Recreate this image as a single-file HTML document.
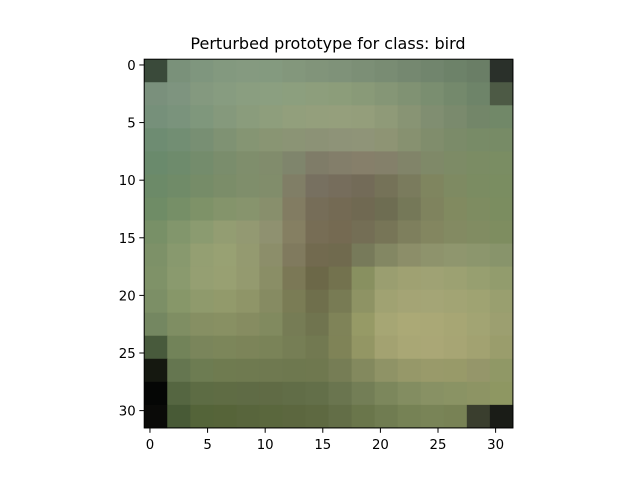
<!DOCTYPE html>
<html><head><meta charset="utf-8"><style>
body{margin:0;background:#fff;width:640px;height:480px;overflow:hidden}
text{font-family:"DejaVu Sans","Liberation Sans",sans-serif;fill:#000}
</style></head><body>
<svg id="chart" width="640" height="480" xmlns="http://www.w3.org/2000/svg">
<text x="328" y="49" font-size="16" text-anchor="middle">Perturbed prototype for class: bird</text>
<g id="cells"></g>
<rect x="144.2" y="59.2" width="368.7" height="368.7" fill="none" stroke="#000" stroke-width="1"/>
<g id="axes"></g>
</svg>
<script>
const rows = [
["#3a4a3a","#7a917a","#7f967e","#83997f","#859a80","#849a7f","#83977c","#81947a","#7f9279","#7c8f76","#798c73","#758870","#71856d","#6d8269","#6a7e66","#2a302a"],
["#7a907c","#7e947f","#84997f","#879c80","#8a9e80","#8b9f80","#8c9f7e","#8d9e7c","#8c9d7a","#899a78","#859676","#809273","#7a8e70","#74896c","#6e8469","#4d5a45"],
["#76907a","#7a937c","#7f977c","#85997c","#8a9c7c","#8e9e7c","#929f7c","#949f7c","#959f7c","#949e7b","#8f9a78","#889474","#808e71","#7a8a6d","#738669","#718868"],
["#6e8c72","#728e73","#788f73","#7f9273","#859573","#899573","#8b9475","#8c9276","#8e9378","#8f9478","#8e9474","#879170","#808d6c","#7b8b69","#788b67","#778b66"],
["#6a8a6c","#6e8b6c","#748c6c","#7a8d6c","#7f8e6c","#818c6c","#7f856c","#7f7c68","#837e6a","#867f6a","#84806a","#818469","#7f8968","#7d8b66","#7b8c64","#7a8d63"],
["#6c8a68","#708b68","#768c68","#7b8d69","#7f8e6b","#818d6b","#807e66","#777060","#766d5c","#736b58","#757258","#7a7b5d","#7f855f","#7e8a62","#7b8c62","#7a8d61"],
["#6f8c66","#768f67","#7e9268","#84946b","#87946d","#888f6c","#827c62","#766d58","#746a54","#706952","#6e6d52","#757858","#7f835e","#818a60","#7e8c61","#7b8d60"],
["#789067","#82966c","#8b9b70","#939d72","#939972","#8f9170","#857f62","#776d55","#756a52","#746e55","#777557","#7e7f5d","#838660","#838a62","#818c62","#7e8d60"],
["#7d9168","#88996e","#949f72","#98a173","#949a70","#8c8e6a","#807a5e","#726a4f","#706a4e","#777a5a","#838763","#8c8e69","#8e936c","#8f966e","#8c966d","#88946b"],
["#7f9268","#8a9a6e","#959f72","#98a072","#949a6f","#8a8e66","#7b7856","#6c6848","#73724e","#889060","#9a9e70","#9fa172","#9fa274","#9ca172","#979f70","#929c6d"],
["#7c8f66","#879769","#8f9a6c","#929a6b","#8f9568","#868b62","#7a7c55","#6f6f4c","#787b54","#8e9364","#a0a272","#a4a475","#a4a576","#a2a474","#9fa372","#999f6f"],
["#748761","#7f8e63","#868f63","#889063","#868c61","#818a5f","#767c55","#70744f","#7f8358","#969a66","#a6a674","#aba976","#aaa876","#a7a674","#a2a473","#9c9f70"],
["#485a3c","#728359","#7a855b","#7c865a","#7c8459","#7a8358","#767e55","#727951","#7f8357","#939664","#a3a271","#a9a775","#aaa776","#a7a574","#a2a271","#9a9d6c"],
["#151810","#657650","#6d7c52","#6f7b50","#6f7a50","#6f7950","#6e784f","#6f784f","#767d55","#83895e","#8f9366","#969869","#999a6a","#989a69","#95966a","#909866"],
["#050605","#556641","#5d6c44","#5f6c44","#5f6b45","#606b45","#616d47","#636f49","#6a754f","#737e56","#7c875c","#838d61","#889164","#8a9364","#8d9464","#8e9762"],
["#0a0a08","#485a36","#546439","#566439","#58653c","#5a673d","#5c673f","#5e6941","#636e47","#6a764b","#707c51","#768255","#798457","#788255","#3a3e2e","#1a1c17"]
];
const ticks = [0,5,10,15,20,25,30];
const NS="http://www.w3.org/2000/svg";
const plotLeft=144.2, plotTop=59.2, plotSize=368.7, nPix=32;
const unit=plotSize/nPix;
const xs=v=>plotLeft+(v+0.5)*unit;
const ys=v=>plotTop+(v+0.5)*unit;
const cells=document.getElementById('cells');
const block=nPix/rows.length;
rows.forEach((row,i)=>row.forEach((c,j)=>{
  const r=document.createElementNS(NS,'rect');
  
  
  r.setAttribute('x',plotLeft+j*block*unit);
  r.setAttribute('y',plotTop+i*block*unit);
  r.setAttribute('width',block*unit+0.5);
  r.setAttribute('height',block*unit+0.5);
  r.setAttribute('fill',c);
  cells.appendChild(r);
}));
const axes=document.getElementById('axes');
ticks.forEach(t=>{
  const x=xs(t), y=ys(t);
  const lx=document.createElementNS(NS,'line');
  
  
  lx.setAttribute('x1',x);lx.setAttribute('x2',x);lx.setAttribute('y1',plotTop+plotSize);lx.setAttribute('y2',plotTop+plotSize+4.9);
  lx.setAttribute('stroke','#000');
  axes.appendChild(lx);
  const tx=document.createElementNS(NS,'text');
  
  
  tx.setAttribute('x',x);tx.setAttribute('y',plotTop+plotSize+21);
  tx.setAttribute('font-size','13.3');tx.setAttribute('text-anchor','middle');
  tx.textContent=t;
  axes.appendChild(tx);
  const ly=document.createElementNS(NS,'line');
  
  
  ly.setAttribute('x1',plotLeft-4.9);ly.setAttribute('x2',plotLeft);ly.setAttribute('y1',y);ly.setAttribute('y2',y);
  ly.setAttribute('stroke','#000');
  axes.appendChild(ly);
  const ty=document.createElementNS(NS,'text');
  
  
  ty.setAttribute('x',plotLeft-8.5);ty.setAttribute('y',y+5);
  ty.setAttribute('font-size','13.3');ty.setAttribute('text-anchor','end');
  ty.textContent=t;
  axes.appendChild(ty);
});
</script>
</body></html>
